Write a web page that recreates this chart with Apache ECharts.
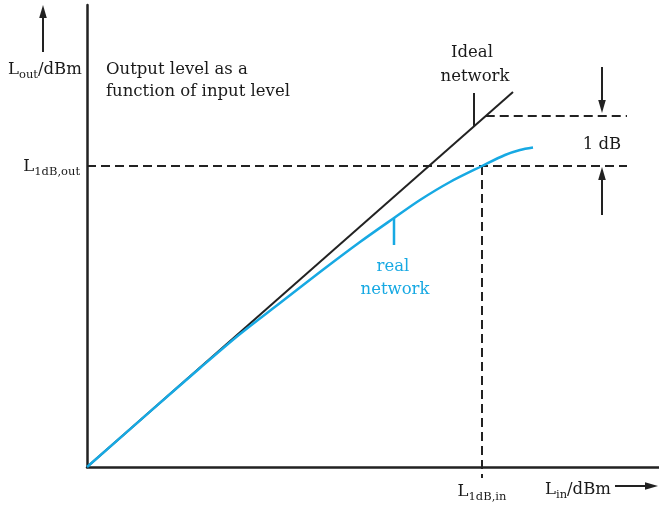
<!DOCTYPE html>
<html>
<head>
<meta charset="utf-8">
<script src="https://cdn.jsdelivr.net/npm/echarts@6/dist/echarts.min.js"></script>
<style>
html,body{margin:0;padding:0;background:#fff;}
#chart{width:659px;height:507px;}
</style>
</head>
<body>
<div id="chart"></div>
<script>
// ---- data (schematic units) ----
const idealX = [0, 42.6];
const idealY = [0, 37.5];
const realX = [0, 6.3, 11.3, 15.3, 19.3, 23.3, 27.3, 30.7, 33.3, 36.3, 39.5, 41.8, 43.3, 44.6];
const realY = [0, 5.54, 9.9, 13.3, 16.4, 19.5, 22.5, 24.9, 26.7, 28.5, 30.1, 31.2, 31.7, 31.95];
const p1dB = { xIn: 39.5, yOut: 30.1, yIdeal: 35.1 };
const xMax = 57.2, yMax = 46.2;
const dashEndX = 54;
const idealTick = { x: 38.7, y0: 34.1, y1: 37.4 };
const realTick = { x: 30.7, y0: 24.9, y1: 22.2 };
const arrowX = 51.5;

const BLUE = '#17a9e3';
const DARK = '#222222';
const TEXT = '#1a1a1a';
const FONT = 'DejaVu Serif';

const chart = echarts.init(document.getElementById('chart'));

function pairs(xs, ys) { return xs.map((x, i) => [x, ys[i]]); }
const dash = { color: DARK, width: 2, type: [9, 5] };

const option = {
  animation: false,
  grid: { left: 87, right: 0, top: 5, bottom: 40, containLabel: false },
  xAxis: {
    type: 'value', min: 0, max: xMax,
    axisLine: { show: true, onZero: false, lineStyle: { color: DARK, width: 2.5 } },
    axisTick: { show: false }, axisLabel: { show: false }, splitLine: { show: false }
  },
  yAxis: {
    type: 'value', min: 0, max: yMax,
    axisLine: { show: true, onZero: false, lineStyle: { color: DARK, width: 2.5 } },
    axisTick: { show: false }, axisLabel: { show: false }, splitLine: { show: false }
  },
  series: [
    { type: 'line', data: [[0, p1dB.yOut], [dashEndX, p1dB.yOut]], symbol: 'none', lineStyle: dash, z: 1 },
    { type: 'line', data: [[p1dB.yIdeal / (idealY[1] / idealX[1]), p1dB.yIdeal], [dashEndX, p1dB.yIdeal]], symbol: 'none', lineStyle: dash, z: 1 },
    { type: 'line', data: [[p1dB.xIn, p1dB.yOut], [p1dB.xIn, -1.1]], symbol: 'none', lineStyle: dash, clip: false, z: 1 },
    { type: 'line', data: pairs(idealX, idealY), symbol: 'none', lineStyle: { color: DARK, width: 2 }, z: 3 },
    { type: 'line', data: pairs(realX, realY), symbol: 'none', smooth: 0.3, lineStyle: { color: BLUE, width: 2.5 }, z: 4 },
    { type: 'line', data: [[idealTick.x, idealTick.y0], [idealTick.x, idealTick.y1]], symbol: 'none', lineStyle: { color: DARK, width: 2 }, z: 3 },
    { type: 'line', data: [[realTick.x, realTick.y0], [realTick.x, realTick.y1]], symbol: 'none', lineStyle: { color: BLUE, width: 2.5 }, z: 4 }
  ]
};
chart.setOption(option);

// ---- annotations ----
const cv = document.createElement('canvas').getContext('2d');
function measure(t, size) { cv.font = size + 'px "' + FONT + '"'; return cv.measureText(t).width; }
function richText(x, baseline, segs, align, color) {
  const MAIN = 16.5, SUB = 11.5;
  const widths = segs.map(s => measure(s[0], s[1] ? SUB : MAIN));
  const total = widths.reduce((a, b) => a + b, 0);
  let cx = align === 'right' ? x - total : align === 'center' ? x - total / 2 : x;
  const els = [];
  segs.forEach((s, i) => {
    const size = s[1] ? SUB : MAIN;
    const bl = baseline + (s[1] ? 4 : 0);
    els.push({ type: 'text', silent: true, z: 10,
      style: { text: s[0], x: cx, y: bl - size * 0.33, font: size + 'px "' + FONT + '"', fill: color || TEXT,
               textAlign: 'left', textVerticalAlign: 'middle' } });
    cx += widths[i];
  });
  return els;
}
function arrow(x1, y1, x2, y2, color) {
  const dx = x2 - x1, dy = y2 - y1, L = Math.hypot(dx, dy);
  const ux = dx / L, uy = dy / L, hl = 13, hw = 3.8;
  const bx = x2 - ux * hl, by = y2 - uy * hl;
  return [
    { type: 'line', silent: true, z: 10, shape: { x1, y1, x2: bx, y2: by }, style: { stroke: color || DARK, lineWidth: 2 } },
    { type: 'polygon', silent: true, z: 10, shape: { points: [[x2, y2], [bx - uy * hw, by + ux * hw], [bx + uy * hw, by - ux * hw]] }, style: { fill: color || DARK } }
  ];
}

const px = (x, y) => chart.convertToPixel({ gridIndex: 0 }, [x, y]);
const aTop0 = px(arrowX, 40.0), aTop1 = px(arrowX, p1dB.yIdeal + 0.3);
const aBot0 = px(arrowX, 25.2), aBot1 = px(arrowX, p1dB.yOut - 0.1);

let g = [];
g = g.concat(arrow(43, 52, 43, 5));
g = g.concat(arrow(615, 486, 658, 486));
g = g.concat(arrow(aTop0[0], aTop0[1], aTop1[0], aTop1[1]));
g = g.concat(arrow(aBot0[0], aBot0[1], aBot1[0], aBot1[1]));
g = g.concat(richText(8, 75, [['L'], ['out', 1], ['/dBm']], 'left'));
g = g.concat(richText(106, 75, [['Output level as a']], 'left'));
g = g.concat(richText(106, 97, [['function of input level']], 'left'));
g = g.concat(richText(80, 172, [['L'], ['1dB,out', 1]], 'right'));
g = g.concat(richText(472, 58, [['Ideal']], 'center'));
g = g.concat(richText(475, 82, [['network']], 'center'));
g = g.concat(richText(602, 150, [['1 dB']], 'center'));
g = g.concat(richText(393, 272, [['real']], 'center', BLUE));
g = g.concat(richText(395, 295, [['network']], 'center', BLUE));
g = g.concat(richText(482, 497, [['L'], ['1dB,in', 1]], 'center'));
g = g.concat(richText(545, 495, [['L'], ['in', 1], ['/dBm']], 'left'));
chart.setOption({ graphic: { elements: g } });
</script>
</body>
</html>
